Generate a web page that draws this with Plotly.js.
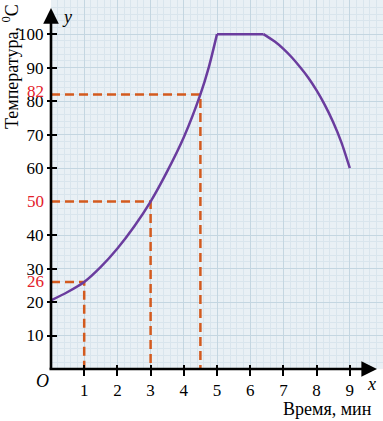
<!DOCTYPE html>
<html>
<head>
<meta charset="utf-8">
<script src="https://cdn.plot.ly/plotly-3.0.1.min.js"></script>
<style>html,body{margin:0;padding:0;background:#fff;}#chart{width:383px;height:421px;}</style>
</head>
<body>
<div id="chart"></div>
<script>
// ---- data ----
const riseX = [0, 0.5, 1, 1.5, 2, 2.5, 3, 3.5, 4, 4.5, 4.75, 5];
const riseY = [20.5, 23, 26, 30.5, 36, 42.5, 50, 59, 69.2, 82, 90, 100];
const plateauX = [5, 6.4];
const plateauY = [100, 100];
const fallX = [6.4, 6.75, 7, 7.25, 7.5, 7.75, 8, 8.25, 8.5, 8.75, 9];
const fallY = [100, 97.7, 95.6, 93.1, 90.2, 87.0, 83.2, 78.8, 73.7, 67.6, 60];
const markX = [1, 3, 4.5];
const markY = [26, 50, 82];
const xTicks = [1, 2, 3, 4, 5, 6, 7, 8, 9];
const yTicks = [10, 20, 30, 40, 60, 70, 80, 90, 100];
const yTickLabels = ['10', '20', '30', '40', '60', '70', '80', '90', '100'];
const xTitle = 'Время, мин';
const yTitle = 'Температура, <sup>0</sup>C';

const curveColor = '#6a3c9e';
const dashColor = '#d35a1e';
const serif = '"Liberation Serif", "Times New Roman", serif';

const traces = [];
markX.forEach((mx, i) => {
  traces.push({
    x: [0, mx, mx], y: [markY[i], markY[i], 0],
    mode: 'lines', line: {color: dashColor, width: 2.5, dash: '9px,5px'},
    hoverinfo: 'skip', showlegend: false
  });
});
traces.push({x: riseX, y: riseY, mode: 'lines', line: {color: curveColor, width: 2.5, shape: 'spline', smoothing: 0.8}, showlegend: false});
traces.push({x: plateauX, y: plateauY, mode: 'lines', line: {color: curveColor, width: 2.5}, showlegend: false});
traces.push({x: fallX, y: fallY, mode: 'lines', line: {color: curveColor, width: 2.5, shape: 'spline', smoothing: 0.6}, showlegend: false});
// overlay axes for inner tick halves
traces.push({x: [], y: [], xaxis: 'x2', yaxis: 'y2', mode: 'lines', showlegend: false});

const xr = [0, 10];
const yr = [0, 110.2];

const annotations = [];
// axes with arrows
annotations.push({xref: 'x', yref: 'paper', x: 0, y: 0.978, axref: 'pixel', ayref: 'pixel', ax: 0, ay: 362,
  text: '', showarrow: true, arrowhead: 2, arrowsize: 1.2, arrowwidth: 2.6, arrowcolor: '#000', standoff: 0, startstandoff: 0});
annotations.push({xref: 'paper', yref: 'y', x: (377 - 51) / 332, y: 0, axref: 'pixel', ayref: 'pixel', ax: -329, ay: 0,
  text: '', showarrow: true, arrowhead: 2, arrowsize: 1.2, arrowwidth: 2.6, arrowcolor: '#000', standoff: 0, startstandoff: 0});
// red value labels
markY.forEach((v, i) => {
  annotations.push({xref: 'x', yref: 'y', x: 0, y: v, xanchor: 'right', yanchor: 'middle', xshift: -5, yshift: i === 2 ? 3 : 0,
    text: String(v), showarrow: false, font: {family: serif, size: 17, color: '#e3202a'}});
});
// axis letters
annotations.push({xref: 'paper', yref: 'paper', x: 16 / 332, y: (369 - 17) / 369, text: '<i>y</i>', showarrow: false,
  xanchor: 'center', yanchor: 'middle', font: {family: serif, size: 18, color: '#000'}});
annotations.push({xref: 'paper', yref: 'paper', x: (371 - 51) / 332, y: -15 / 369, text: '<i>x</i>', showarrow: false,
  xanchor: 'center', yanchor: 'middle', font: {family: serif, size: 18, color: '#000'}});
annotations.push({xref: 'paper', yref: 'paper', x: -9 / 332, y: -12 / 369, text: '<i>O</i>', showarrow: false,
  xanchor: 'center', yanchor: 'middle', font: {family: serif, size: 18, color: '#000'}});
// titles
annotations.push({xref: 'paper', yref: 'paper', x: (327 - 51) / 332, y: -40 / 369, text: xTitle, showarrow: false,
  xanchor: 'center', yanchor: 'middle', font: {family: serif, size: 18, color: '#000'}});
annotations.push({xref: 'paper', yref: 'paper', x: -41 / 332, y: (369 - 67) / 369, text: yTitle, showarrow: false, textangle: -90,
  xanchor: 'center', yanchor: 'middle', font: {family: serif, size: 18, color: '#000'}});

const layout = {
  width: 383, height: 421,
  margin: {l: 51, r: 0, t: 0, b: 52, pad: 0},
  paper_bgcolor: '#ffffff',
  plot_bgcolor: '#e9f0f5',
  showlegend: false,
  hovermode: false,
  font: {family: serif, size: 17, color: '#000'},
  xaxis: {
    range: xr, fixedrange: true, showline: false, zeroline: false,
    tickmode: 'array', tickvals: xTicks, ticktext: xTicks.map(String),
    ticks: 'outside', ticklen: 6, tickwidth: 2, tickcolor: '#000',
    tickfont: {family: serif, size: 17, color: '#000'},
    showgrid: true, gridcolor: '#c4d6e1', gridwidth: 1,
    minor: {dtick: 0.2, tick0: 0, showgrid: true, gridcolor: '#d9e5ed', gridwidth: 1, ticks: ''}
  },
  yaxis: {
    range: yr, fixedrange: true, showline: false, zeroline: false,
    tickmode: 'array', tickvals: yTicks, ticktext: yTickLabels,
    ticks: 'outside', ticklen: 3, tickwidth: 2, tickcolor: '#000',
    tickfont: {family: serif, size: 17, color: '#000'},
    showgrid: true, gridcolor: '#c4d6e1', gridwidth: 1,
    minor: {dtick: 2, tick0: 0, showgrid: true, gridcolor: '#d9e5ed', gridwidth: 1, ticks: ''}
  },
  xaxis2: {
    overlaying: 'x', anchor: 'y2', range: xr, fixedrange: true, showline: false, zeroline: false, showgrid: false,
    tickmode: 'array', tickvals: xTicks, ticks: 'inside', ticklen: 4, tickwidth: 2, tickcolor: '#000', showticklabels: false
  },
  yaxis2: {
    overlaying: 'y', anchor: 'x2', range: yr, fixedrange: true, showline: false, zeroline: false, showgrid: false,
    tickmode: 'array', tickvals: yTicks, ticks: 'inside', ticklen: 6, tickwidth: 2, tickcolor: '#000', showticklabels: false
  },
  annotations: annotations
};

Plotly.newPlot('chart', traces, layout, {displayModeBar: false, staticPlot: true});
</script>
</body>
</html>
